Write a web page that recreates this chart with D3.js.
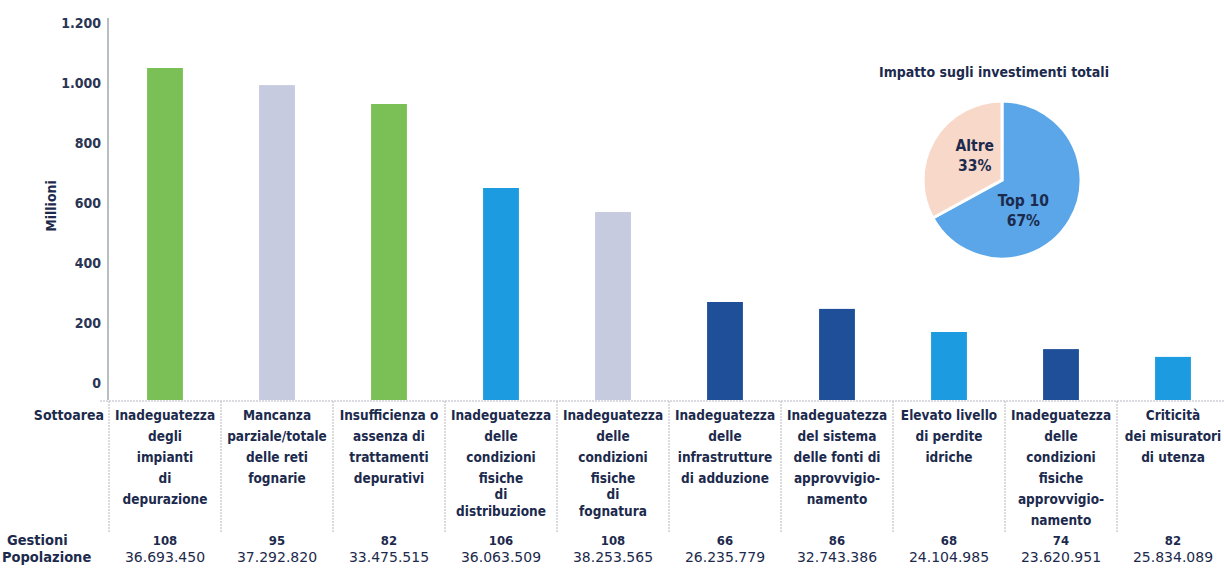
<!DOCTYPE html>
<html>
<head>
<meta charset="utf-8">
<script src="https://cdn.jsdelivr.net/npm/d3@7"></script>
<style>
  body { margin: 0; background: #fff; }
  svg text { font-family: "DejaVu Sans Condensed", "DejaVu Sans", sans-serif; font-stretch: condensed; font-weight: bold; fill: #1c2a4d; }
</style>
</head>
<body>
<div id="chart"></div>
<script>
// data
const categories = [
  ["Inadeguatezza", "degli", "impianti", "di", "depurazione"],
  ["Mancanza", "parziale/totale", "delle reti", "fognarie"],
  ["Insufficienza o", "assenza di", "trattamenti", "depurativi"],
  ["Inadeguatezza", "delle", "condizioni", "fisiche", "di", "distribuzione"],
  ["Inadeguatezza", "delle", "condizioni", "fisiche", "di", "fognatura"],
  ["Inadeguatezza", "delle", "infrastrutture", "di adduzione"],
  ["Inadeguatezza", "del sistema", "delle fonti di", "approvvigio-", "namento"],
  ["Elevato livello", "di perdite", "idriche"],
  ["Inadeguatezza", "delle", "condizioni", "fisiche", "approvvigio-", "namento"],
  ["Criticità", "dei misuratori", "di utenza"]
];
const investimenti = [1050, 993, 930, 650, 570, 270, 247, 170, 113, 87];
const groups = ["green", "gray", "green", "blue", "gray", "navy", "navy", "blue", "navy", "blue"];
const gestioni = ["108", "95", "82", "106", "108", "66", "86", "68", "74", "82"];
const popolazione = ["36.693.450", "37.292.820", "33.475.515", "36.063.509", "38.253.565",
  "26.235.779", "32.743.386", "24.104.985", "23.620.951", "25.834.089"];
const yTicks = [0, 200, 400, 600, 800, 1000, 1200];
const pieLabels = ["Top 10", "Altre"];
const pieValues = [67, 33];

const W = 1224, H = 569;
const baseY = 400;

const colors = { green: "#7bc057", gray: "#c6cbdf", blue: "#1d9be0", navy: "#1f4f98" };
const pieColors = ["#5ba6e8", "#f8d9c9"];

const svg = d3.select("#chart").append("svg")
  .attr("width", W).attr("height", H);

const idx = d3.range(categories.length);

const x = d3.scaleBand()
  .domain(idx)
  .range([109, 1229])
  .paddingInner(0.68)
  .paddingOuter(0.34);

const y = d3.scaleLinear()
  .domain([0, 1200])
  .range([383, 23]);

const it = d3.formatLocale({ decimal: ",", thousands: ".", grouping: [3], currency: ["", ""] });
const fmt = it.format(",");

// y axis line + labels
svg.append("line")
  .attr("x1", 108).attr("x2", 108)
  .attr("y1", 18).attr("y2", baseY)
  .attr("stroke", "#8a909c").attr("stroke-width", 1.2);

svg.append("g").selectAll("text")
  .data(yTicks)
  .join("text")
  .attr("x", 101)
  .attr("y", d => y(d))
  .attr("dy", "0.35em")
  .attr("text-anchor", "end")
  .style("font-size", "14px")
  .style("fill", "#2a3553")
  .text(d => fmt(d));

svg.append("text")
  .attr("transform", `translate(51,${y(590)}) rotate(-90)`)
  .attr("text-anchor", "middle")
  .attr("dy", "0.35em")
  .style("font-size", "14px")
  .text("Millioni");

// bars
svg.append("g").selectAll("rect")
  .data(idx)
  .join("rect")
  .attr("x", i => x(i))
  .attr("width", x.bandwidth())
  .attr("y", i => y(investimenti[i]))
  .attr("height", i => baseY - y(investimenti[i]))
  .attr("fill", i => colors[groups[i]]);

// table grid
svg.append("line")
  .attr("x1", 100).attr("x2", W)
  .attr("y1", baseY + 1).attr("y2", baseY + 1)
  .attr("stroke", "#b5b9c2").attr("stroke-dasharray", "2,1");

const step = x.step();
svg.append("g").selectAll("line")
  .data(idx)
  .join("line")
  .attr("x1", i => x(i) - x.paddingOuter() * step)
  .attr("x2", i => x(i) - x.paddingOuter() * step)
  .attr("y1", baseY + 1).attr("y2", 532)
  .attr("stroke", "#b5b9c2").attr("stroke-dasharray", "2,1");

// row labels
svg.append("text").attr("x", 104).attr("y", 420).attr("text-anchor", "end")
  .style("font-size", "14px").text("Sottoarea");
svg.append("text").attr("x", 7).attr("y", 545)
  .style("font-size", "14.5px").text("Gestioni");
svg.append("text").attr("x", 2).attr("y", 562)
  .style("font-size", "14.5px").text("Popolazione");

// category labels; a lone "di" before the last line sits closer in 6-line labels
const lineH = 21;
function lineY(lines, k) {
  const tight = lines.length === 6 && lines[4] === "di";
  if (tight && k === 4) return 420 + 3 * lineH + 16;
  if (tight && k === 5) return 420 + 3 * lineH + 33;
  return 420 + k * lineH;
}
const catG = svg.append("g").selectAll("text")
  .data(idx)
  .join("text")
  .attr("text-anchor", "middle")
  .style("font-size", "13.5px");
catG.selectAll("tspan")
  .data(i => categories[i].map(t => ({ t, i })))
  .join("tspan")
  .attr("x", d => x(d.i) + x.bandwidth() / 2)
  .attr("y", (d, k) => lineY(categories[d.i], k))
  .text(d => d.t);

svg.append("g").selectAll("text")
  .data(idx)
  .join("text")
  .attr("x", i => x(i) + x.bandwidth() / 2)
  .attr("y", 545)
  .attr("text-anchor", "middle")
  .style("font-size", "13px")
  .text(i => gestioni[i]);

svg.append("g").selectAll("text")
  .data(idx)
  .join("text")
  .attr("x", i => x(i) + x.bandwidth() / 2)
  .attr("y", 562)
  .attr("text-anchor", "middle")
  .style("font-size", "14px")
  .style("font-family", "'DejaVu Sans', sans-serif")
  .style("font-stretch", "normal")
  .style("font-weight", "normal")
  .text(i => popolazione[i]);

// pie
const cx = 1002, cy = 180, r = 79;
svg.append("text")
  .attr("x", 994).attr("y", 77)
  .attr("text-anchor", "middle")
  .style("font-size", "14px")
  .text("Impatto sugli investimenti totali");

const pie = d3.pie().sort(null).value(d => d)(pieValues);
const arc = d3.arc().innerRadius(0).outerRadius(r);
const pg = svg.append("g").attr("transform", `translate(${cx},${cy})`);
pg.selectAll("path")
  .data(pie)
  .join("path")
  .attr("d", arc)
  .attr("fill", (d, i) => pieColors[i])
  .attr("stroke", "#fff")
  .attr("stroke-width", 3);

// labels sit a bit past the middle of each slice
const labR = 37;
pg.selectAll("text")
  .data(pie)
  .join("text")
  .attr("transform", d => {
    const a = d.startAngle + (d.endAngle - d.startAngle) * 0.6;
    return `translate(${Math.sin(a) * labR},${-Math.cos(a) * labR})`;
  })
  .attr("text-anchor", "middle")
  .style("font-size", "15.5px")
  .call(t => t.append("tspan").attr("x", 0).attr("dy", "-0.25em").text((d, i) => pieLabels[i]))
  .call(t => t.append("tspan").attr("x", 0).attr("dy", "1.3em").text((d, i) => pieValues[i] + "%"));
</script>
</body>
</html>
